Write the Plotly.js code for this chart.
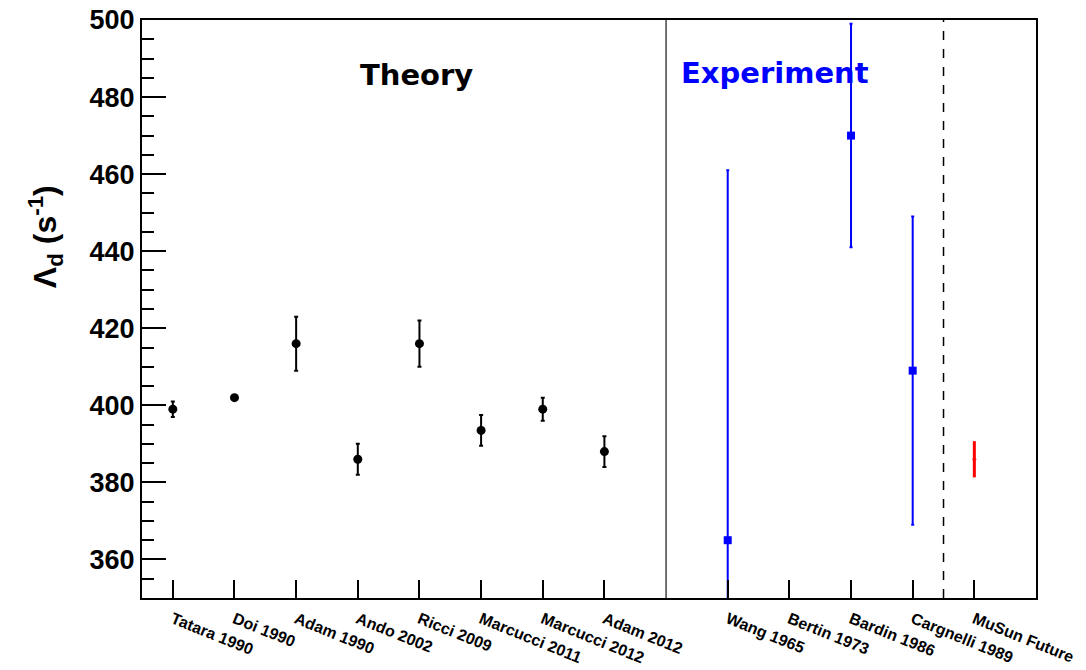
<!DOCTYPE html>
<html>
<head>
<meta charset="utf-8">
<script src="https://cdn.plot.ly/plotly-3.0.1.min.js"></script>
<style>html,body{margin:0;padding:0;background:#fff;}#chart{width:1086px;height:670px;}</style>
</head>
<body>
<div id="chart"></div>
<script>
// ---- data ----
const categories = ['Tatara 1990','Doi 1990','Adam 1990','Ando 2002','Ricci 2009','Marcucci 2011','Marcucci 2012','Adam 2012','','Wang 1965','Bertin 1973','Bardin 1986','Cargnelli 1989','MuSun Future'];
const theoryNames = ['Tatara 1990','Doi 1990','Adam 1990','Ando 2002','Ricci 2009','Marcucci 2011','Marcucci 2012','Adam 2012'];
const theoryValues = [399, 402, 416, 386, 416, 393.5, 399, 388];
const theoryErrors = [2, 0, 7, 4, 6, 4, 3, 4];
const experimentNames = ['Wang 1965','Bertin 1973','Bardin 1986','Cargnelli 1989'];
const experimentValues = [365, null, 470, 409];
const experimentErrors = [96, null, 29, 40];
const futureNames = ['MuSun Future'];
const futureValues = [386];
const futureErrors = [4.7];

const pos = n => categories.indexOf(n);
const labelled = categories.filter(c => c !== '');

const traces = [
  {
    type: 'scatter', mode: 'markers',
    x: theoryNames.map(pos), y: theoryValues,
    marker: {symbol: 'circle', size: 9, color: '#000'},
    error_y: {type: 'data', array: theoryErrors, visible: true, color: '#000', thickness: 2, width: 2},
    showlegend: false, hoverinfo: 'y'
  },
  {
    type: 'scatter', mode: 'markers',
    x: experimentNames.map(pos), y: experimentValues,
    marker: {symbol: 'square', size: 8, color: '#0000ff'},
    error_y: {type: 'data', array: experimentErrors, visible: true, color: '#0000ff', thickness: 2, width: 1.5},
    showlegend: false, hoverinfo: 'y'
  },
  {
    type: 'scatter', mode: 'markers',
    x: futureNames.map(pos), y: futureValues,
    marker: {symbol: 'line-ew', size: 3, color: '#ff0000', line: {width: 1, color: '#ff0000'}},
    error_y: {type: 'data', array: futureErrors, visible: true, color: '#ff0000', thickness: 3, width: 0},
    showlegend: false, hoverinfo: 'y'
  }
];

const font = 'Liberation Sans, Arial, Helvetica, sans-serif';

const layout = {
  width: 1086, height: 670,
  margin: {l: 142, r: 50, t: 20, b: 72},
  paper_bgcolor: '#fff', plot_bgcolor: '#fff',
  font: {family: font, color: '#000'},
  xaxis: {
    range: [-0.5, 14],
    tickmode: 'array',
    tickvals: labelled.map(pos),
    ticktext: labelled,
    tickangle: 22,
    ticklabelstandoff: 4,
    ticks: 'inside', ticklen: 18, tickwidth: 2, tickcolor: '#000',
    tickfont: {family: font, size: 16, color: '#000', weight: 'bold'},
    showgrid: false, zeroline: false,
    showline: true, linecolor: '#000', linewidth: 2, mirror: true,
    automargin: false
  },
  yaxis: {
    range: [350, 500],
    dtick: 20, tick0: 0,
    ticks: 'inside', ticklen: 24, tickwidth: 2, tickcolor: '#000',
    minor: {dtick: 5, ticks: 'inside', ticklen: 12, tickwidth: 2, tickcolor: '#000', showgrid: false},
    tickfont: {family: font, size: 27, color: '#000', weight: 'bold'},
    showgrid: false, zeroline: false,
    showline: true, linecolor: '#000', linewidth: 2, mirror: true,
    automargin: false
  },
  shapes: [
    {type: 'line', xref: 'x', yref: 'paper', x0: 8, x1: 8, y0: 0, y1: 1, line: {color: '#444', width: 1.5}},
    {type: 'line', xref: 'x', yref: 'paper', x0: 12.5, x1: 12.5, y0: 0, y1: 1, line: {color: '#000', width: 1.5, dash: 'dash'}}
  ],
  annotations: [
    {text: 'Theory', xref: 'x', yref: 'y', x: 3.95, y: 485.8, showarrow: false,
     font: {family: 'DejaVu Sans, sans-serif', size: 29, color: '#000', weight: 'bold'}},
    {text: 'Experiment', xref: 'x', yref: 'y', x: 9.77, y: 486.2, showarrow: false,
     font: {family: 'DejaVu Sans, sans-serif', size: 29, color: '#0000ff', weight: 'bold'}},
    {text: 'Λ<sub>d</sub> (s<sup>-1</sup>)', xref: 'paper', yref: 'paper', x: -0.108, y: 0.625,
     textangle: -90, showarrow: false, xanchor: 'center', yanchor: 'middle',
     font: {family: font, size: 32, color: '#000', weight: 'bold'}}
  ]
};

Plotly.newPlot('chart', traces, layout, {displayModeBar: false, staticPlot: true});
</script>
</body>
</html>
